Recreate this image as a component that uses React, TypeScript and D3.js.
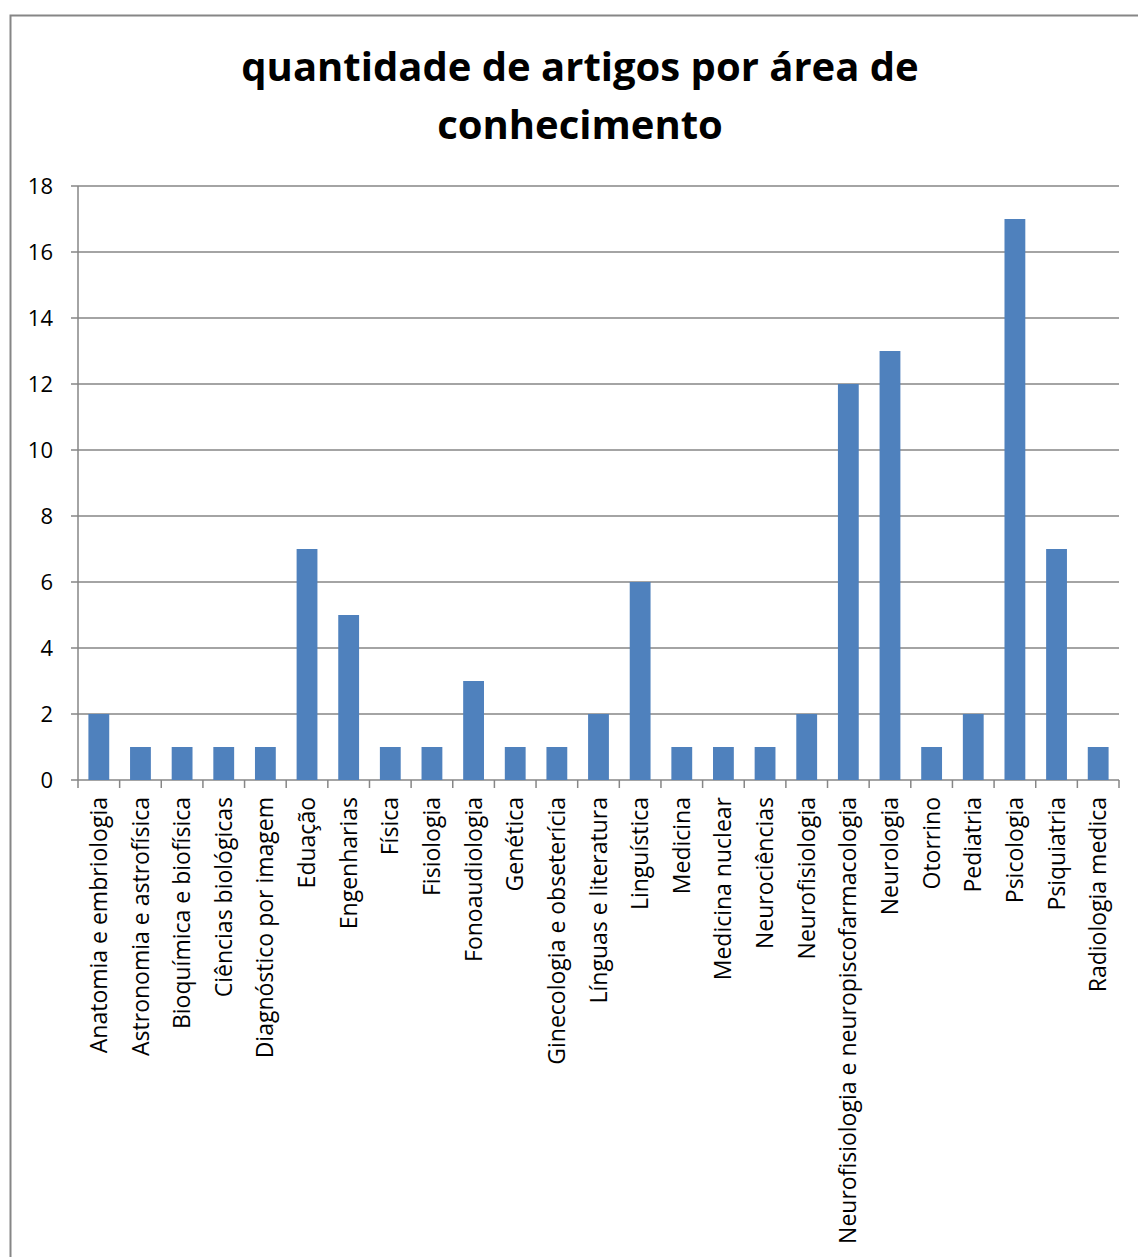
import React from "react";
import * as d3 from "d3";

const categories = [
  "Anatomia e embriologia",
  "Astronomia e astrofísica",
  "Bioquímica e biofísica",
  "Ciências biológicas",
  "Diagnóstico por imagem",
  "Eduação",
  "Engenharias",
  "Física",
  "Fisiologia",
  "Fonoaudiologia",
  "Genética",
  "Ginecologia e obseterícia",
  "Línguas e literatura",
  "Linguística",
  "Medicina",
  "Medicina nuclear",
  "Neurociências",
  "Neurofisiologia",
  "Neurofisiologia e neuropiscofarmacologia",
  "Neurologia",
  "Otorrino",
  "Pediatria",
  "Psicologia",
  "Psiquiatria",
  "Radiologia medica",
];
const values = [2, 1, 1, 1, 1, 7, 5, 1, 1, 3, 1, 1, 2, 6, 1, 1, 1, 2, 12, 13, 1, 2, 17, 7, 1];
const yTicks = [0, 2, 4, 6, 8, 10, 12, 14, 16, 18];
const titleLines = ["quantidade de artigos por área de", "conhecimento"];

const W = 1138;
const H = 1257;
const left = 78;
const right = 1119;
const top = 186;
const bottom = 780;
const font = "'Open Sans', 'DejaVu Sans', sans-serif";
const gridColor = "#868686";

export default function App() {
  const x = d3.scaleBand<string>().domain(categories).range([left, right]).paddingInner(0.5).paddingOuter(0.25);
  const xb = d3.scaleBand<string>().domain(categories).range([left, right]);
  const y = d3.scaleLinear().domain([0, 18]).range([bottom, top]);
  return (
    <svg width={W} height={H} style={{ position: "absolute", left: 0, top: 0 }}>
      <rect x={0} y={0} width={W} height={H} fill="#fff" />
      <rect x={10.5} y={15.5} width={W + 20} height={H + 20} fill="none" stroke={gridColor} strokeWidth={2} />
      {titleLines.map((t, i) => (
        <text key={i} x={580} y={81 + i * 58} textAnchor="middle" fontFamily={font} fontWeight="bold" fontSize={40} fill="#000">
          {t}
        </text>
      ))}
      {yTicks.map((t) => (
        <g key={t}>
          <line x1={left - 7} x2={right} y1={y(t)} y2={y(t)} stroke={gridColor} strokeWidth={1.5} />
          <text x={53} y={y(t)} dy="0.35em" textAnchor="end" fontFamily={font} fontSize={22} fill="#000">
            {t}
          </text>
        </g>
      ))}
      <line x1={left} x2={left} y1={top} y2={bottom} stroke={gridColor} strokeWidth={1.5} />
      {categories.map((c, i) => (
        <line key={"t" + i} x1={xb(c)!} x2={xb(c)!} y1={bottom} y2={bottom + 8} stroke={gridColor} strokeWidth={1.5} />
      ))}
      <line x1={right} x2={right} y1={bottom} y2={bottom + 8} stroke={gridColor} strokeWidth={1.5} />
      {categories.map((c, i) => (
        <rect key={"b" + i} x={x(c)!} y={y(values[i])} width={x.bandwidth()} height={bottom - y(values[i])} fill="#4F81BD" />
      ))}
      {categories.map((c, i) => {
        const cx = xb(c)! + xb.bandwidth() / 2;
        return (
          <text
            key={"l" + i}
            transform={`translate(${cx},797) rotate(-90)`}
            textAnchor="end"
            dy="0.35em"
            fontFamily={font}
            fontSize={23}
            fill="#000"
          >
            {c}
          </text>
        );
      })}
    </svg>
  );
}
